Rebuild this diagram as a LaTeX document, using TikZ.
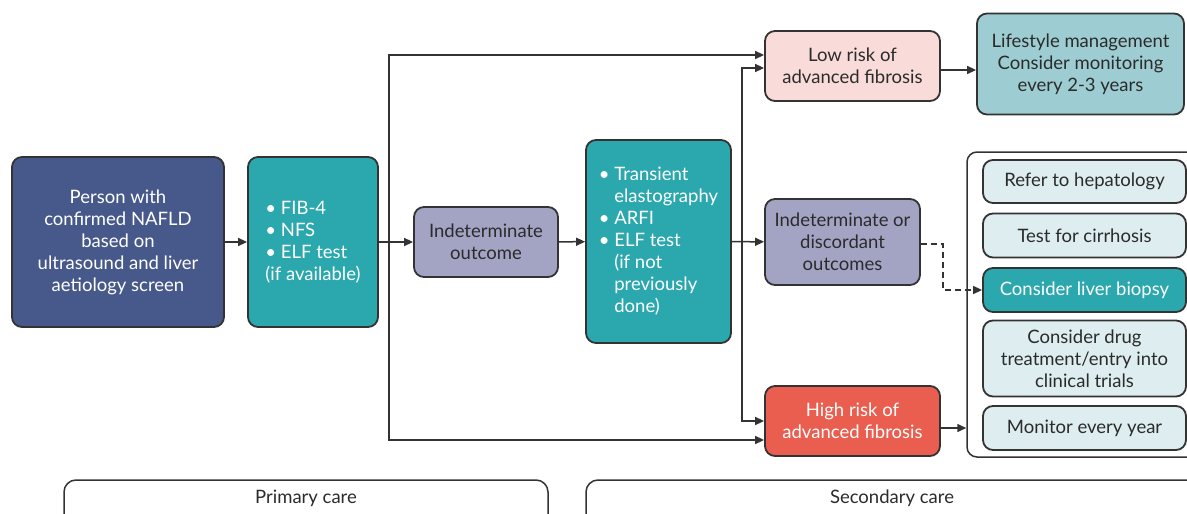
\documentclass[tikz,border=0pt]{standalone}
\usepackage{fontspec}
\setmainfont{Lato}
\usetikzlibrary{arrows.meta}

\definecolor{ink}{HTML}{2B2B2B}
\definecolor{edge}{HTML}{333333}
\definecolor{navy}{HTML}{46598A}
\definecolor{tealbox}{HTML}{2BA8AE}
\definecolor{lav}{HTML}{A3A4C4}
\definecolor{pinkbox}{HTML}{F9DCDA}
\definecolor{lifebox}{HTML}{9DCDD2}
\definecolor{redbox}{HTML}{EA5E4F}
\definecolor{palebox}{HTML}{DDEDF0}

\begin{document}
\begin{tikzpicture}[x=1pt,y=-1pt,
            every node/.style={font=\fontsize{18.5}{22}\selectfont, align=center, text=ink},
            box/.style={draw=edge, line width=1.8pt, rounded corners=10pt, inner sep=2pt},
            opt/.style={box, fill=palebox, minimum width=203},
            arr/.style={draw=edge, line width=1.5pt, -{Triangle[length=9pt,width=8pt]}},
            bar/.style={draw=edge, line width=1.5pt, rounded corners=12pt},
            ]
            \clip (0,0) rectangle (1187,514);

            % left half
            \node[box, fill=navy, text=white, minimum width=212, minimum height=170] (person) at (118,242)
                {Person with\\confirmed NAFLD\\based on\\ultrasound and liver\\aetiology screen};
            \node[box, fill=tealbox, text=white, minimum width=130, minimum height=170, align=left] (fib) at (313,242)
                {\textbullet\ FIB-4\\\textbullet\ NFS\\\textbullet\ ELF test\\(if available)};
            \node[box, fill=lav, minimum width=144, minimum height=70] (indet) at (486,242) {Indeterminate\\outcome};
            \node[box, fill=tealbox, text=white, minimum width=145, minimum height=203, align=left] (trans) at (658.5,241.5)
                {\textbullet\ Transient\\\phantom{\textbullet\ }elastography\\\textbullet\ ARFI\\\textbullet\ ELF test\\
                 \phantom{\textbullet\ }(if not\\\phantom{\textbullet\ }previously\\\phantom{\textbullet\ }done)};

            % outcomes
            \node[box, fill=pinkbox, minimum width=175, minimum height=70] (low) at (852.5,66) {Low risk of\\advanced fibrosis};
            \node[box, fill=lifebox, minimum width=207, minimum height=101] (life) at (1080.5,64)
                {Lifestyle management\\Consider monitoring\\every 2-3 years};
            \node[box, fill=lav, minimum width=155, minimum height=86] (disc) at (842.5,242)
                {Indeterminate or\\discordant\\outcomes};
            \node[box, fill=redbox, text=white, minimum width=175, minimum height=70] (high) at (852.5,421)
                {High risk of\\advanced fibrosis};

            % secondary care options
            \node[box, line width=1.5pt, fill=white, minimum width=273, minimum height=305] (opts) at (1103.5,304.5) {};
            \node[opt, minimum height=43] (refer) at (1084.5,181.5) {Refer to hepatology};
            \node[opt, minimum height=44] (cirr) at (1084.5,235.5) {Test for cirrhosis};
            \node[opt, fill=tealbox, text=white, minimum height=44] (biop) at (1084.5,290) {Consider liver biopsy};
            \node[opt, minimum height=76] (drug) at (1084.5,358.5) {Consider drug\\treatment/entry into\\clinical trials};
            \node[opt, minimum height=44] (mon) at (1084.5,428) {Monitor every year};

            % care settings
            \draw[bar] (64,480) rectangle (548,545);
            \node (prim) at (306,498) {Primary care};
            \draw[bar] (586,480) rectangle (1230,545);
            \node (sec) at (892,498) {Secondary care};

            % connectors
            \coordinate (j1) at (389,242);
            \coordinate (j2) at (742,242);
            \draw[arr] (person) -- (fib);
            \draw[arr] (fib) -- (indet);
            \draw[arr] (j1) |- ([yshift=11pt]low.west);
            \draw[arr] (j1) |- ([yshift=-19pt]high.west);
            \draw[arr] (indet) -- (trans);
            \draw[arr] (trans) -- (disc);
            \draw[arr] (j2) |- ([yshift=-2pt]low.west);
            \draw[arr] (j2) |- (high.west);
            \draw[arr] ([yshift=-4pt]low.east) -- ([yshift=-4pt]low.east -| life.west);
            \draw[arr] ([yshift=-7pt]high.east) -- ([yshift=-7pt]high.east -| opts.west);
            \draw[arr, dash pattern=on 6pt off 4pt] ([yshift=-2pt]disc.east) -- ++(22,0) |- (biop.west);
        \end{tikzpicture}
\end{document}
